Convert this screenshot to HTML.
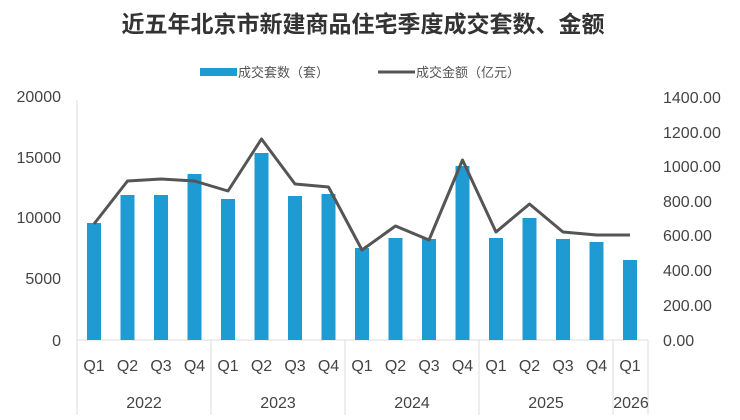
<!DOCTYPE html>
<html><head><meta charset="utf-8"><style>
body{margin:0;background:#fff;}
svg{display:block;font-family:"Liberation Sans","Noto Sans CJK SC",sans-serif;}
</style></head><body>
<svg width="740" height="420" viewBox="0 0 740 420" xmlns="http://www.w3.org/2000/svg">
<rect width="740" height="420" fill="#fff"/>
<text x="363" y="32" text-anchor="middle" font-size="23" font-weight="bold" fill="#333" font-family="'Noto Sans CJK SC',sans-serif">近五年北京市新建商品住宅季度成交套数、金额</text>
<rect x="200" y="68" width="37" height="8" fill="#1f9bd4"/>
<text x="238" y="77" font-size="13" fill="#555" font-family="'Noto Sans CJK SC',sans-serif">成交套数（套）</text>
<line x1="378" y1="72" x2="415" y2="72" stroke="#555" stroke-width="3"/>
<text x="416" y="77" font-size="13" fill="#555" font-family="'Noto Sans CJK SC',sans-serif">成交金额（亿元）</text>
<g font-size="16" fill="#444" text-anchor="end">
<text x="61" y="102">20000</text><text x="61" y="163">15000</text><text x="61" y="223">10000</text><text x="61" y="284">5000</text><text x="61" y="346">0</text>
</g>
<g font-size="16" fill="#444">
<text x="663" y="103">1400.00</text><text x="663" y="138">1200.00</text><text x="663" y="172">1000.00</text><text x="663" y="207">800.00</text><text x="663" y="241">600.00</text><text x="663" y="276">400.00</text><text x="663" y="311">200.00</text><text x="663" y="346">0.00</text>
</g>
<g stroke="#ddd" stroke-width="1">
<line x1="77" y1="100" x2="77" y2="340"/>
<line x1="77" y1="340" x2="648" y2="340"/>
<line x1="77" y1="340" x2="77" y2="415"/>
<line x1="211" y1="340" x2="211" y2="415"/>
<line x1="345" y1="340" x2="345" y2="415"/>
<line x1="479" y1="340" x2="479" y2="415"/>
<line x1="613" y1="340" x2="613" y2="415"/>
<line x1="648" y1="340" x2="648" y2="415"/>
</g>
<g fill="#1f9bd4">
<rect x="87" y="223" width="14" height="117"/>
<rect x="120.5" y="195" width="14" height="145"/>
<rect x="154" y="195" width="14" height="145"/>
<rect x="187.5" y="174" width="14" height="166"/>
<rect x="221" y="199" width="14" height="141"/>
<rect x="254.5" y="153" width="14" height="187"/>
<rect x="288" y="196" width="14" height="144"/>
<rect x="321.5" y="194" width="14" height="146"/>
<rect x="355" y="248" width="14" height="92"/>
<rect x="388.5" y="238" width="14" height="102"/>
<rect x="422" y="239" width="14" height="101"/>
<rect x="455.5" y="166" width="14" height="174"/>
<rect x="489" y="238" width="14" height="102"/>
<rect x="522.5" y="218" width="14" height="122"/>
<rect x="556" y="239" width="14" height="101"/>
<rect x="589.5" y="242" width="14" height="98"/>
<rect x="623" y="260" width="14" height="80"/>
</g>
<polyline fill="none" stroke="#555" stroke-width="3" stroke-linejoin="round" points="94,224 127.5,181 161,179 194.5,181 228,191 261.5,139 295,184 328.5,187 362,250 395.5,226 429,240 462.5,160 496,232 529.5,204 563,232 596.5,235 630,235"/>
<g font-size="16" fill="#444" text-anchor="middle">
<text x="94" y="371">Q1</text><text x="127.5" y="371">Q2</text><text x="161" y="371">Q3</text><text x="194.5" y="371">Q4</text>
<text x="228" y="371">Q1</text><text x="261.5" y="371">Q2</text><text x="295" y="371">Q3</text><text x="328.5" y="371">Q4</text>
<text x="362" y="371">Q1</text><text x="395.5" y="371">Q2</text><text x="429" y="371">Q3</text><text x="462.5" y="371">Q4</text>
<text x="496" y="371">Q1</text><text x="529.5" y="371">Q2</text><text x="563" y="371">Q3</text><text x="596.5" y="371">Q4</text>
<text x="630" y="371">Q1</text>
<text x="144" y="408">2022</text><text x="278" y="408">2023</text><text x="412" y="408">2024</text><text x="546" y="408">2025</text><text x="631" y="408">2026</text>
</g>
</svg>
</body></html>
